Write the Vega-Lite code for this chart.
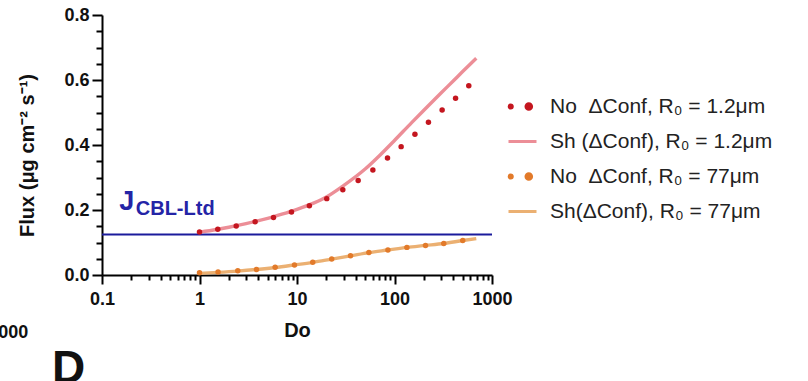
{
  "$schema": "https://vega.github.io/schema/vega-lite/v6.json",
  "width": 390,
  "height": 260,
  "autosize": {"type": "none"},
  "padding": {"left": 102, "top": 15, "right": 316, "bottom": 106},
  "background": "white",
  "config": {
    "font": "Liberation Sans",
    "view": {"stroke": null},
    "axis": {
      "domainColor": "black", "domainWidth": 2, "tickColor": "black", "tickWidth": 2,
      "labelFont": "Liberation Sans", "labelFontWeight": "bold", "labelFontSize": 18, "labelColor": "#111",
      "titleFont": "Liberation Sans", "titleFontWeight": "bold", "titleFontSize": 20, "titleColor": "#111",
      "grid": false
    }
  },
  "title": {
    "text": "D", "orient": "bottom", "anchor": "start", "frame": "group",
    "fontSize": 46, "fontWeight": "bold", "font": "Liberation Sans", "color": "#111", "dx": -50, "offset": 5
  },
  "resolve": {"axis": {"x": "independent", "y": "independent"}},
  "data": {
    "values": [
      {"kind": "line", "series": "Sh (ΔConf), R₀ = 1.2μm", "Do": 1, "flux": 0.132},
      {"kind": "line", "series": "Sh (ΔConf), R₀ = 1.2μm", "Do": 1.5, "flux": 0.140},
      {"kind": "line", "series": "Sh (ΔConf), R₀ = 1.2μm", "Do": 2, "flux": 0.147},
      {"kind": "line", "series": "Sh (ΔConf), R₀ = 1.2μm", "Do": 3, "flux": 0.158},
      {"kind": "line", "series": "Sh (ΔConf), R₀ = 1.2μm", "Do": 5, "flux": 0.174},
      {"kind": "line", "series": "Sh (ΔConf), R₀ = 1.2μm", "Do": 7, "flux": 0.187},
      {"kind": "line", "series": "Sh (ΔConf), R₀ = 1.2μm", "Do": 10, "flux": 0.202},
      {"kind": "line", "series": "Sh (ΔConf), R₀ = 1.2μm", "Do": 15, "flux": 0.222},
      {"kind": "line", "series": "Sh (ΔConf), R₀ = 1.2μm", "Do": 20, "flux": 0.240},
      {"kind": "line", "series": "Sh (ΔConf), R₀ = 1.2μm", "Do": 30, "flux": 0.275},
      {"kind": "line", "series": "Sh (ΔConf), R₀ = 1.2μm", "Do": 50, "flux": 0.326},
      {"kind": "line", "series": "Sh (ΔConf), R₀ = 1.2μm", "Do": 70, "flux": 0.367},
      {"kind": "line", "series": "Sh (ΔConf), R₀ = 1.2μm", "Do": 100, "flux": 0.414},
      {"kind": "line", "series": "Sh (ΔConf), R₀ = 1.2μm", "Do": 150, "flux": 0.469},
      {"kind": "line", "series": "Sh (ΔConf), R₀ = 1.2μm", "Do": 200, "flux": 0.507},
      {"kind": "line", "series": "Sh (ΔConf), R₀ = 1.2μm", "Do": 300, "flux": 0.560},
      {"kind": "line", "series": "Sh (ΔConf), R₀ = 1.2μm", "Do": 400, "flux": 0.597},
      {"kind": "line", "series": "Sh (ΔConf), R₀ = 1.2μm", "Do": 500, "flux": 0.626},
      {"kind": "line", "series": "Sh (ΔConf), R₀ = 1.2μm", "Do": 690, "flux": 0.667},
      {"kind": "line", "series": "Sh(ΔConf), R₀ = 77μm", "Do": 1, "flux": 0.005},
      {"kind": "line", "series": "Sh(ΔConf), R₀ = 77μm", "Do": 1.55, "flux": 0.008},
      {"kind": "line", "series": "Sh(ΔConf), R₀ = 77μm", "Do": 2.47, "flux": 0.012},
      {"kind": "line", "series": "Sh(ΔConf), R₀ = 77μm", "Do": 3.84, "flux": 0.017},
      {"kind": "line", "series": "Sh(ΔConf), R₀ = 77μm", "Do": 5.97, "flux": 0.023},
      {"kind": "line", "series": "Sh(ΔConf), R₀ = 77μm", "Do": 9.42, "flux": 0.031},
      {"kind": "line", "series": "Sh(ΔConf), R₀ = 77μm", "Do": 14.5, "flux": 0.039},
      {"kind": "line", "series": "Sh(ΔConf), R₀ = 77μm", "Do": 22.7, "flux": 0.049},
      {"kind": "line", "series": "Sh(ΔConf), R₀ = 77μm", "Do": 35.4, "flux": 0.059},
      {"kind": "line", "series": "Sh(ΔConf), R₀ = 77μm", "Do": 54.6, "flux": 0.069},
      {"kind": "line", "series": "Sh(ΔConf), R₀ = 77μm", "Do": 85.6, "flux": 0.077},
      {"kind": "line", "series": "Sh(ΔConf), R₀ = 77μm", "Do": 134, "flux": 0.085},
      {"kind": "line", "series": "Sh(ΔConf), R₀ = 77μm", "Do": 208, "flux": 0.091},
      {"kind": "line", "series": "Sh(ΔConf), R₀ = 77μm", "Do": 320, "flux": 0.097},
      {"kind": "line", "series": "Sh(ΔConf), R₀ = 77μm", "Do": 501, "flux": 0.106},
      {"kind": "line", "series": "Sh(ΔConf), R₀ = 77μm", "Do": 690, "flux": 0.112},
      {"kind": "dot", "series": "No\u00a0 ΔConf, R₀ = 1.2μm", "Do": 1.0, "flux": 0.132},
      {"kind": "dot", "series": "No\u00a0 ΔConf, R₀ = 1.2μm", "Do": 1.54, "flux": 0.141},
      {"kind": "dot", "series": "No\u00a0 ΔConf, R₀ = 1.2μm", "Do": 2.38, "flux": 0.151},
      {"kind": "dot", "series": "No\u00a0 ΔConf, R₀ = 1.2μm", "Do": 3.72, "flux": 0.164},
      {"kind": "dot", "series": "No\u00a0 ΔConf, R₀ = 1.2μm", "Do": 5.74, "flux": 0.177},
      {"kind": "dot", "series": "No\u00a0 ΔConf, R₀ = 1.2μm", "Do": 8.78, "flux": 0.194},
      {"kind": "dot", "series": "No\u00a0 ΔConf, R₀ = 1.2μm", "Do": 13.4, "flux": 0.213},
      {"kind": "dot", "series": "No\u00a0 ΔConf, R₀ = 1.2μm", "Do": 20.2, "flux": 0.235},
      {"kind": "dot", "series": "No\u00a0 ΔConf, R₀ = 1.2μm", "Do": 29.5, "flux": 0.262},
      {"kind": "dot", "series": "No\u00a0 ΔConf, R₀ = 1.2μm", "Do": 42.4, "flux": 0.291},
      {"kind": "dot", "series": "No\u00a0 ΔConf, R₀ = 1.2μm", "Do": 60, "flux": 0.323},
      {"kind": "dot", "series": "No\u00a0 ΔConf, R₀ = 1.2μm", "Do": 84.8, "flux": 0.360},
      {"kind": "dot", "series": "No\u00a0 ΔConf, R₀ = 1.2μm", "Do": 117, "flux": 0.395},
      {"kind": "dot", "series": "No\u00a0 ΔConf, R₀ = 1.2μm", "Do": 162, "flux": 0.433},
      {"kind": "dot", "series": "No\u00a0 ΔConf, R₀ = 1.2μm", "Do": 223, "flux": 0.470},
      {"kind": "dot", "series": "No\u00a0 ΔConf, R₀ = 1.2μm", "Do": 308, "flux": 0.508},
      {"kind": "dot", "series": "No\u00a0 ΔConf, R₀ = 1.2μm", "Do": 423, "flux": 0.544},
      {"kind": "dot", "series": "No\u00a0 ΔConf, R₀ = 1.2μm", "Do": 578, "flux": 0.582},
      {"kind": "dot", "series": "No\u00a0 ΔConf, R₀ = 77μm", "Do": 1, "flux": 0.007},
      {"kind": "dot", "series": "No\u00a0 ΔConf, R₀ = 77μm", "Do": 1.55, "flux": 0.009},
      {"kind": "dot", "series": "No\u00a0 ΔConf, R₀ = 77μm", "Do": 2.47, "flux": 0.013},
      {"kind": "dot", "series": "No\u00a0 ΔConf, R₀ = 77μm", "Do": 3.84, "flux": 0.017},
      {"kind": "dot", "series": "No\u00a0 ΔConf, R₀ = 77μm", "Do": 5.97, "flux": 0.024},
      {"kind": "dot", "series": "No\u00a0 ΔConf, R₀ = 77μm", "Do": 9.42, "flux": 0.031},
      {"kind": "dot", "series": "No\u00a0 ΔConf, R₀ = 77μm", "Do": 14.5, "flux": 0.039},
      {"kind": "dot", "series": "No\u00a0 ΔConf, R₀ = 77μm", "Do": 22.7, "flux": 0.049},
      {"kind": "dot", "series": "No\u00a0 ΔConf, R₀ = 77μm", "Do": 35.4, "flux": 0.059},
      {"kind": "dot", "series": "No\u00a0 ΔConf, R₀ = 77μm", "Do": 54.6, "flux": 0.069},
      {"kind": "dot", "series": "No\u00a0 ΔConf, R₀ = 77μm", "Do": 85.6, "flux": 0.077},
      {"kind": "dot", "series": "No\u00a0 ΔConf, R₀ = 77μm", "Do": 134, "flux": 0.085},
      {"kind": "dot", "series": "No\u00a0 ΔConf, R₀ = 77μm", "Do": 208, "flux": 0.091},
      {"kind": "dot", "series": "No\u00a0 ΔConf, R₀ = 77μm", "Do": 320, "flux": 0.097},
      {"kind": "dot", "series": "No\u00a0 ΔConf, R₀ = 77μm", "Do": 501, "flux": 0.106}
    ]
  },
  "layer": [
    {
      "data": {"values": [{"J": 0.125}]},
      "mark": {"type": "rule", "color": "#1B1B9C", "strokeWidth": 2},
      "encoding": {
        "y": {
          "field": "J", "type": "quantitative",
          "scale": {"domain": [0, 0.8], "nice": false, "zero": false},
          "axis": {
            "orient": "left",
            "title": "Flux (μg cm⁻² s⁻¹)", "titleX": -65, "titleY": 140, "titleAngle": 270, "titleBaseline": "bottom",
            "values": [0, 0.2, 0.4, 0.6, 0.8],
            "format": ".1f",
            "tickSize": 10,
            "labelPadding": 3
          }
        }
      }
    },
    {
      "transform": [{"filter": "datum.kind == 'line'"}],
      "mark": {"type": "line", "interpolate": "monotone", "strokeWidth": 3.4},
      "encoding": {
        "x": {
          "field": "Do", "type": "quantitative",
          "scale": {"type": "log", "domain": [0.1, 1000], "nice": false},
          "axis": {
            "orient": "bottom",
            "title": "Do", "titlePadding": 12,
            "values": [0.1, 1, 10, 100, 1000],
            "labelExpr": "datum.value < 1 ? '0.1' : format(datum.value, 'd')",
            "tickSize": 9,
            "labelPadding": 6,
            "labelFlush": false
          }
        },
        "y": {"field": "flux", "type": "quantitative", "axis": null},
        "color": {
          "field": "series", "type": "nominal",
          "scale": {
            "domain": ["No\u00a0 ΔConf, R₀ = 1.2μm", "Sh (ΔConf), R₀ = 1.2μm", "No\u00a0 ΔConf, R₀ = 77μm", "Sh(ΔConf), R₀ = 77μm"],
            "range": ["#C4161F", "#EC8E97", "#E27A2A", "#EBB072"]
          },
          "legend": {
            "title": null, "orient": "none", "legendX": 405, "legendY": 76,
            "padding": 0, "symbolSize": 784, "symbolOffset": 0, "rowPadding": 9, "labelOffset": 12,
            "labelFont": "Liberation Sans", "labelFontSize": 21, "labelColor": "#222", "labelLimit": 400,
            "symbolType": "stroke", "symbolStrokeWidth": 3,
            "encode": {
              "symbols": {
                "update": {
                  "shape": {"signal": "indexof(datum.value, 'No') == 0 ? 'M -0.95 0 A 0.11 0.11 0 1 0 -0.73 0 A 0.11 0.11 0 1 0 -0.95 0 Z M 0.25 0 A 0.2 0.2 0 1 0 0.65 0 A 0.2 0.2 0 1 0 0.25 0 Z' : 'stroke'"},
                  "fill": {"scale": "color", "field": "value"}
                }
              }
            }
          }
        }
      }
    },
    {
      "transform": [{"filter": "datum.kind == 'dot'"}],
      "mark": {"type": "circle", "size": 30, "opacity": 1},
      "encoding": {
        "x": {
          "field": "Do", "type": "quantitative",
          "axis": {
            "orient": "bottom", "title": null, "labels": false, "domain": false, "tickSize": 5,
            "values": [0.2, 0.3, 0.4, 0.5, 0.6, 0.7, 0.8, 0.9, 2, 3, 4, 5, 6, 7, 8, 9, 20, 30, 40, 50, 60, 70, 80, 90, 200, 300, 400, 500, 600, 700, 800, 900]
          }
        },
        "y": {
          "field": "flux", "type": "quantitative",
          "axis": {
            "orient": "left", "title": null, "labels": false, "domain": false, "tickSize": 6,
            "values": [0.05, 0.1, 0.15, 0.25, 0.3, 0.35, 0.45, 0.5, 0.55, 0.65, 0.7, 0.75]
          }
        },
        "color": {"field": "series", "type": "nominal", "legend": null}
      }
    },
    {
      "data": {"values": [{"Do": 0.15, "flux": 0.2, "label": "J"}]},
      "mark": {"type": "text", "fontSize": 27, "fontWeight": "bold", "color": "#2424A6", "align": "left", "baseline": "alphabetic"},
      "encoding": {
        "x": {"field": "Do", "type": "quantitative", "axis": null},
        "y": {"field": "flux", "type": "quantitative", "axis": null},
        "text": {"field": "label"}
      }
    },
    {
      "data": {"values": [{"Do": 0.222, "flux": 0.184, "label": "CBL-Ltd"}]},
      "mark": {"type": "text", "fontSize": 20, "fontWeight": "bold", "color": "#2424A6", "align": "left", "baseline": "alphabetic"},
      "encoding": {
        "x": {"field": "Do", "type": "quantitative", "axis": null},
        "y": {"field": "flux", "type": "quantitative", "axis": null},
        "text": {"field": "label"}
      }
    },
    {
      "data": {"values": [{"Do": 0.0175, "flux": -0.178, "label": "1000"}]},
      "mark": {"type": "text", "fontSize": 18, "fontWeight": "bold", "color": "#111", "align": "right", "baseline": "middle"},
      "encoding": {
        "x": {"field": "Do", "type": "quantitative", "axis": null},
        "y": {"field": "flux", "type": "quantitative", "axis": null},
        "text": {"field": "label"}
      }
    }
  ]
}
